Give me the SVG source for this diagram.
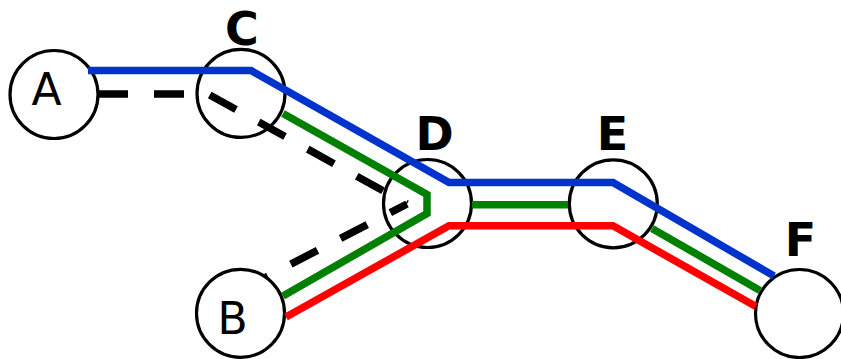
<svg xmlns="http://www.w3.org/2000/svg" width="841" height="359" viewBox="0 0 841 359">
<style>
.node{fill:none;stroke:#000;stroke-width:3.2}
.lbl{font-family:"DejaVu Sans",sans-serif;font-size:44px;fill:#000;text-anchor:middle}
.blbl{font-family:"DejaVu Sans",sans-serif;font-weight:bold;font-size:46px;fill:#000;text-anchor:middle}
.ln{fill:none;stroke-width:7.5;stroke-linejoin:miter;stroke-linecap:butt}
.blue{stroke:#0033cc}
.green{stroke:#008000}
.red{stroke:#ff0000}
.dash{fill:none;stroke:#000;stroke-width:7.5;stroke-dasharray:30 26;stroke-linecap:butt}
</style>
<rect width="841" height="359" fill="#fff"/>
<g id="A"><circle class="node" cx="54" cy="94.5" r="44"/><text class="lbl" x="46.5" y="105">A</text></g>
<g id="B"><circle class="node" cx="240.5" cy="313.3" r="44"/><text class="lbl" x="232.5" y="334">B</text></g>
<g id="C"><circle class="node" cx="241" cy="93.4" r="44"/><text class="blbl" x="242" y="44.5">C</text></g>
<g id="D"><circle class="node" cx="427.5" cy="203.5" r="44"/><text class="blbl" x="434.5" y="150">D</text></g>
<g id="E"><circle class="node" cx="613.3" cy="203.8" r="44"/><text class="blbl" x="612.5" y="150">E</text></g>
<g id="F"><circle class="node" cx="799.5" cy="313.5" r="44"/><text class="blbl" x="800.5" y="256">F</text></g>
<g id="connectors">
<path class="dash" d="M98,94 H208 L407,204"/>
<path class="dash" stroke-dashoffset="28" d="M266,277 L407,204"/>
<path class="ln blue" d="M88,70.5 H251 L449,182.5 H613 L774,276"/>
<path class="ln green" d="M283,113.5 L427,194.5 V213.5 L283,296"/>
<path class="ln green" d="M472,204.8 H568"/>
<path class="ln green" d="M652,228.5 L760,290.5"/>
<path class="ln red" d="M286,317 L449,225.8 H613 L756,306.5"/>
</g>
</svg>
